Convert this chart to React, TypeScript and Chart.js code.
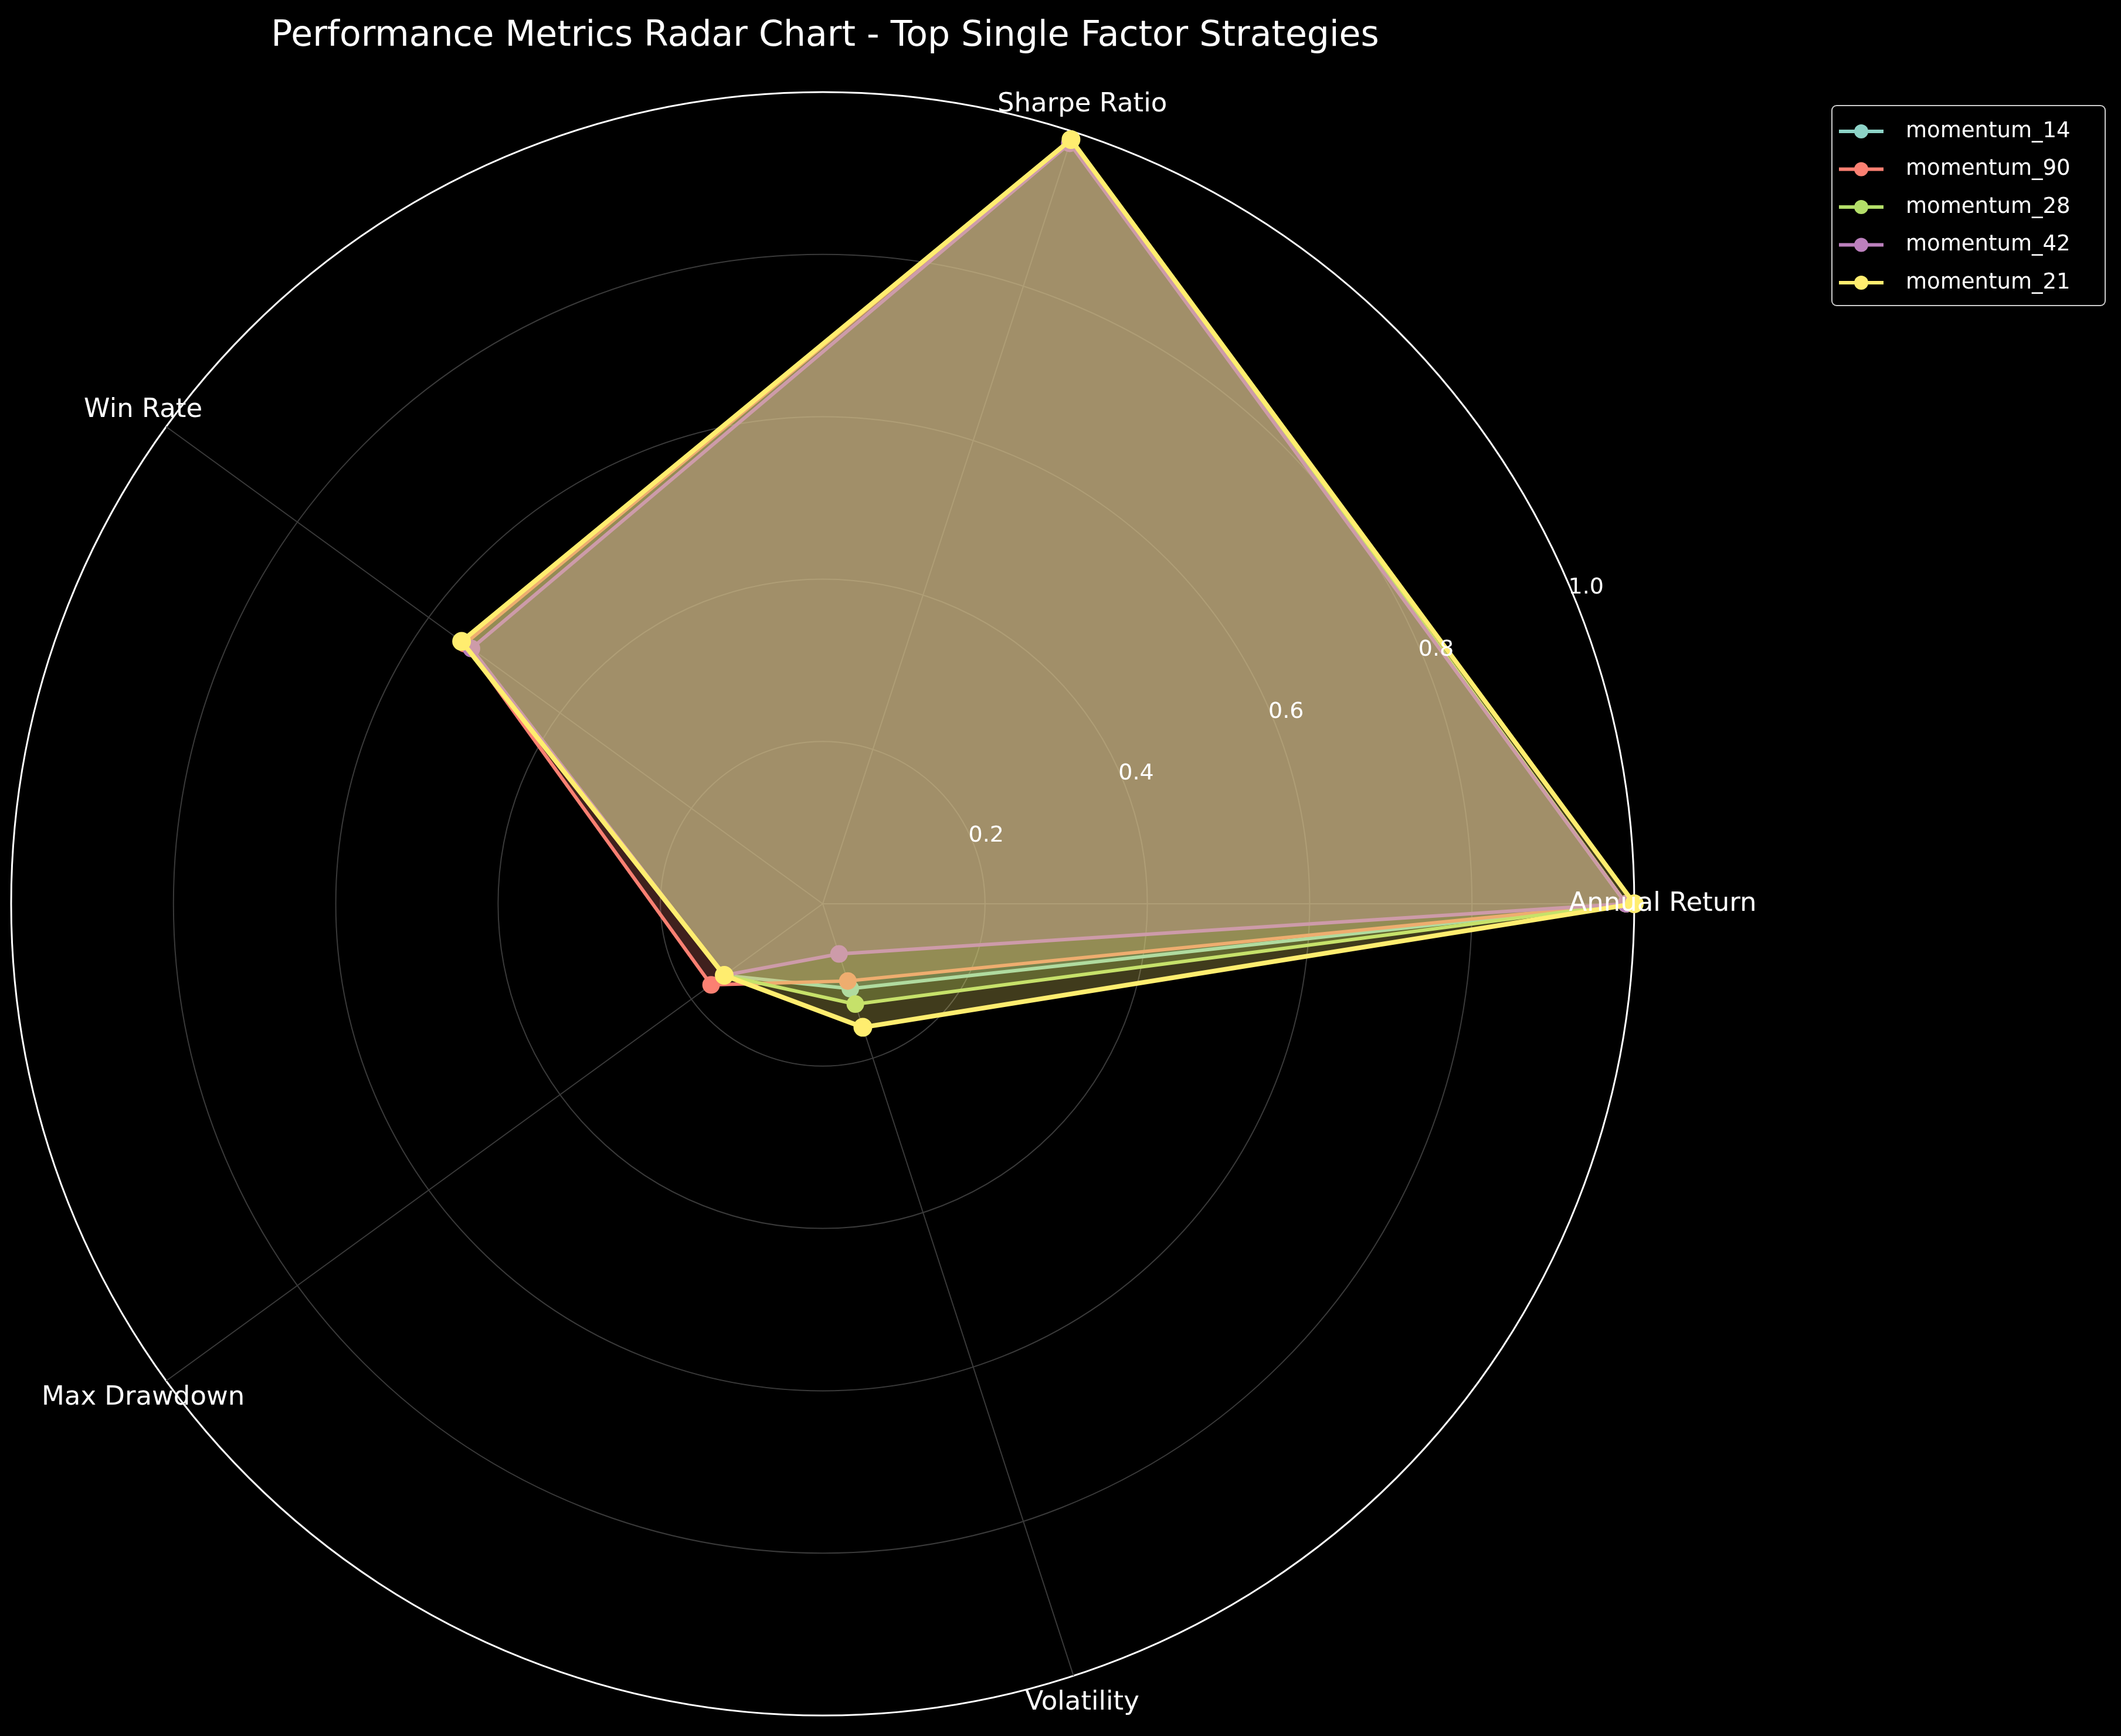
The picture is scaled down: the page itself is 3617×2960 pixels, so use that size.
import { useEffect, useRef } from 'react'
import { Chart, registerables } from 'chart.js'
Chart.register(...registerables)

// clockwise from the right-hand axis
const metrics = ['Annual Return', 'Volatility', 'Max Drawdown', 'Win Rate', 'Sharpe Ratio']
const strategies = ['momentum_14', 'momentum_90', 'momentum_28', 'momentum_42', 'momentum_21']
const momentum14 = [0.99, 0.11, 0.15, 0.55, 0.99]
const momentum90 = [0.99, 0.10, 0.17, 0.545, 0.99]
const momentum28 = [0.99, 0.13, 0.15, 0.55, 0.99]
const momentum42 = [0.99, 0.065, 0.15, 0.535, 0.985]
const momentum21 = [1.0, 0.16, 0.15, 0.55, 0.99]
const tickValues = [0.2, 0.4, 0.6, 0.8, 1.0]
const colors = ['#8dd3c7', '#fb8072', '#b3de69', '#bc80bd', '#ffed6f']

const W = 3617, H = 2960

const overlay = {
  id: 'overlay',
  beforeDraw(chart: any) {
    const c = chart.ctx
    c.save()
    c.fillStyle = '#000'
    c.fillRect(0, 0, W, H)
    c.restore()
  },
  afterDraw(chart: any) {
    const c = chart.ctx
    const s = chart.scales.r
    c.save()
    c.fillStyle = '#fff'
    c.textAlign = 'center'
    c.textBaseline = 'middle'
    c.font = '60px "DejaVu Sans"'
    c.fillText('Performance Metrics Radar Chart - Top Single Factor Strategies', 1407, 62)
    c.font = '45px "DejaVu Sans"'
    metrics.forEach((m, i) => {
      const p = s.getPointPosition(i, s.getDistanceFromCenterForValue(1.035))
      c.fillText(m, p.x, p.y)
    })
    c.font = '38px "DejaVu Sans"'
    const a = 22.5 * Math.PI / 180
    tickValues.forEach(v => {
      const d = s.getDistanceFromCenterForValue(v) + 25
      c.fillText(v.toFixed(1), s.xCenter + d * Math.cos(a), s.yCenter - d * Math.sin(a))
    })
    // legend
    c.fillStyle = '#000'
    c.strokeStyle = '#ccc'
    c.lineWidth = 2
    c.beginPath()
    c.roundRect(3124, 180, 466, 341, 8)
    c.fill()
    c.stroke()
    c.textAlign = 'left'
    c.font = '37px "DejaVu Sans"'
    strategies.forEach((n, i) => {
      const y = 224 + i * 64.5
      c.strokeStyle = colors[i]
      c.fillStyle = colors[i]
      c.lineWidth = 6
      c.beginPath()
      c.moveTo(3136, y)
      c.lineTo(3212, y)
      c.stroke()
      c.beginPath()
      c.arc(3174, y, 12, 0, Math.PI * 2)
      c.fill()
      c.fillStyle = '#fff'
      c.fillText(n, 3250, y)
    })
    c.restore()
  }
}

export default function App() {
  const ref = useRef<HTMLCanvasElement | null>(null)
  useEffect(() => {
    document.body.style.margin = '0'
    document.body.style.background = '#000'
    const series = [momentum14, momentum90, momentum28, momentum42, momentum21]
    const chart = new Chart(ref.current!, {
      type: 'radar',
      data: {
        labels: metrics,
        datasets: strategies.map((n, i) => ({
          label: n,
          data: series[i],
          order: 4 - i,
          borderColor: colors[i],
          backgroundColor: colors[i] + '40',
          pointBackgroundColor: colors[i],
          pointBorderColor: colors[i],
          pointRadius: 12,
          borderWidth: i === 4 ? 8 : 6,
          fill: true,
        })),
      },
      options: {
        responsive: false,
        animation: false,
        devicePixelRatio: 1,
        layout: { padding: { left: 19, right: 830, top: 157, bottom: 35 } },
        plugins: { legend: { display: false }, tooltip: { enabled: false } },
        scales: {
          r: {
            min: 0,
            max: 1,
            startAngle: 90,
            ticks: { stepSize: 0.2, display: false },
            pointLabels: { display: false },
            grid: {
              circular: true,
              lineWidth: (ctx: any) => (ctx.tick && ctx.tick.value >= 0.999 ? 3 : 2),
              color: (ctx: any) => (ctx.tick && ctx.tick.value >= 0.999 ? '#ffffff' : '#3a3a3a'),
            },
            angleLines: { color: '#3a3a3a', lineWidth: 2 },
          },
        },
      },
      plugins: [overlay],
    })
    return () => chart.destroy()
  }, [])
  return (
    <div style={{ width: W, height: H, background: '#000' }}>
      <canvas ref={ref} width={W} height={H} />
    </div>
  )
}
